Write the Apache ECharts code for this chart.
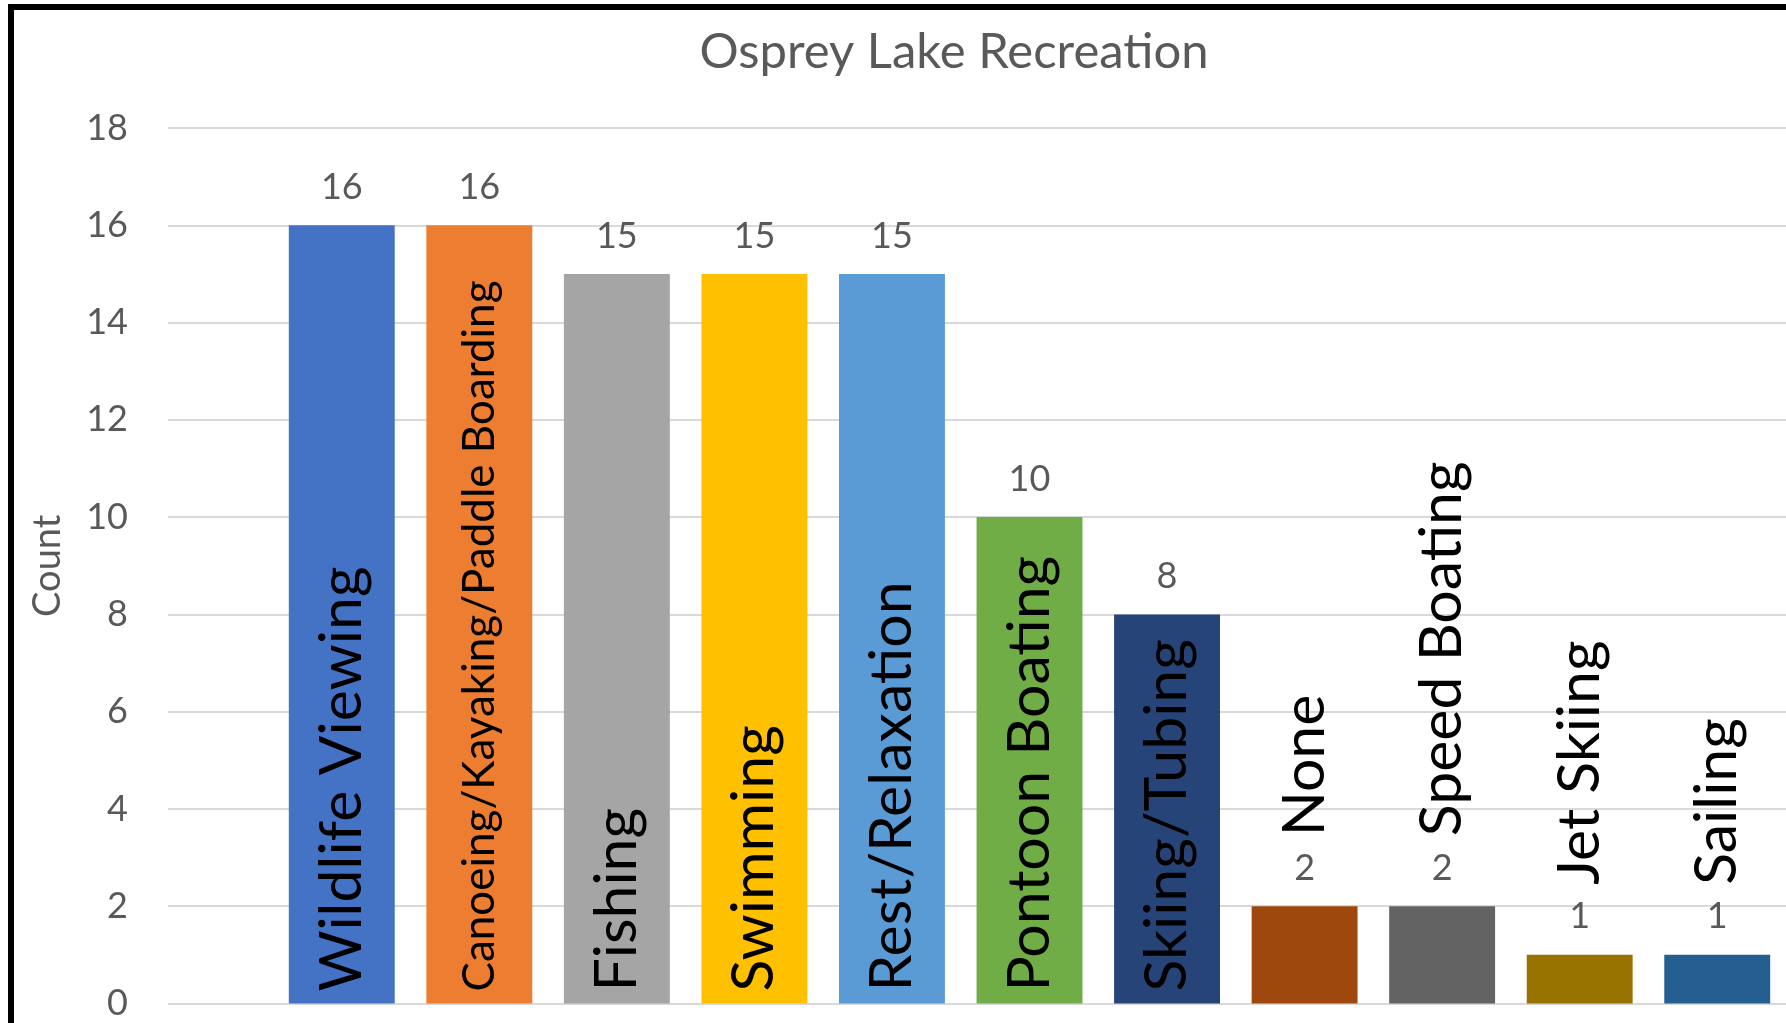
<!DOCTYPE html>
<html>
<head>
<meta charset="utf-8">
<title>Osprey Lake Recreation</title>
<script src="https://cdn.jsdelivr.net/npm/echarts@6/dist/echarts.min.js"></script>
<style>
  html, body { margin: 0; padding: 0; background: #fff; }
  #chart { width: 1786px; height: 1023px; }
</style>
</head>
<body>
<div id="chart"></div>
<script>
// data
const categories = ['Wildlife Viewing', 'Canoeing/Kayaking/Paddle Boarding', 'Fishing', 'Swimming',
  'Rest/Relaxation', 'Pontoon Boating', 'Skiing/Tubing', 'None', 'Speed Boating', 'Jet Skiing', 'Sailing'];
const counts = [16, 16, 15, 15, 15, 10, 8, 2, 2, 1, 1];
const barColors = ['#4472C4', '#ED7D31', '#A5A5A5', '#FFC000', '#5B9BD5', '#70AD47',
  '#264478', '#9E480E', '#636363', '#997300', '#255E91'];
const yTicks = [0, 2, 4, 6, 8, 10, 12, 14, 16, 18];

const FONT = 'Lato';
const GREY = '#595959';

const chart = echarts.init(document.getElementById('chart'));

const yMin = yTicks[0];
const yMax = yTicks[yTicks.length - 1];
const yStep = yTicks[1] - yTicks[0];

// name labels: inside the bar when it is tall enough, otherwise above the value label
function nameLabel(name, value) {
  const inside = value > 4;
  return {
    show: true,
    formatter: '{b}',
    rotate: 90,
    align: 'left',
    verticalAlign: 'middle',
    position: inside ? 'insideBottom' : 'top',
    distance: inside ? 12 : 70,
    fontFamily: FONT,
    fontSize: name.length > 20 ? 44 : 59,
    color: '#000'
  };
}

const option = {
  animation: false,
  title: {
    text: 'Osprey Lake Recreation',
    left: 949,
    top: 23,
    textAlign: 'center',
    textStyle: { fontFamily: FONT, fontSize: 49, fontWeight: 'normal', color: GREY }
  },
  grid: [
    { left: 168, right: 0, top: 128, bottom: 19.5 },
    { left: 273, right: 0, top: 128, bottom: 19.5 }
  ],
  xAxis: [
    { gridIndex: 0, type: 'value', show: false },
    {
      gridIndex: 1, type: 'category', data: categories,
      axisLine: { show: false }, axisTick: { show: false }, axisLabel: { show: false }
    }
  ],
  yAxis: [
    {
      gridIndex: 0, type: 'value', min: yMin, max: yMax, interval: yStep,
      name: 'Count', nameLocation: 'middle', nameRotate: 90, nameGap: 101,
      nameTextStyle: { fontFamily: FONT, fontSize: 38, color: GREY },
      axisLine: { show: false }, axisTick: { show: false },
      axisLabel: { margin: 40, fontFamily: FONT, fontSize: 36, color: GREY },
      splitLine: { lineStyle: { color: '#D9D9D9', width: 2 } }
    },
    { gridIndex: 1, type: 'value', min: yMin, max: yMax, interval: yStep, show: false, splitLine: { show: false } }
  ],
  graphic: [{
    type: 'rect',
    shape: { x: 11, y: 7, width: 1900, height: 1200 },
    style: { fill: 'none', stroke: '#000', lineWidth: 6 },
    silent: true
  }],
  series: [
    {
      type: 'bar',
      xAxisIndex: 1, yAxisIndex: 1,
      barCategoryGap: '23%',
      barGap: '-100%',
      data: counts.map((v, i) => ({ value: v, itemStyle: { color: barColors[i] } })),
      label: {
        show: true, position: 'top', distance: 20,
        fontFamily: FONT, fontSize: 36, color: GREY
      }
    },
    {
      type: 'bar',
      xAxisIndex: 1, yAxisIndex: 1,
      barCategoryGap: '23%',
      barGap: '-100%',
      silent: true,
      data: counts.map((v, i) => ({
        value: v,
        itemStyle: { color: 'rgba(0,0,0,0)' },
        label: nameLabel(categories[i], v)
      }))
    }
  ]
};

chart.setOption(option);
window.addEventListener('resize', () => chart.resize());
</script>
</body>
</html>
